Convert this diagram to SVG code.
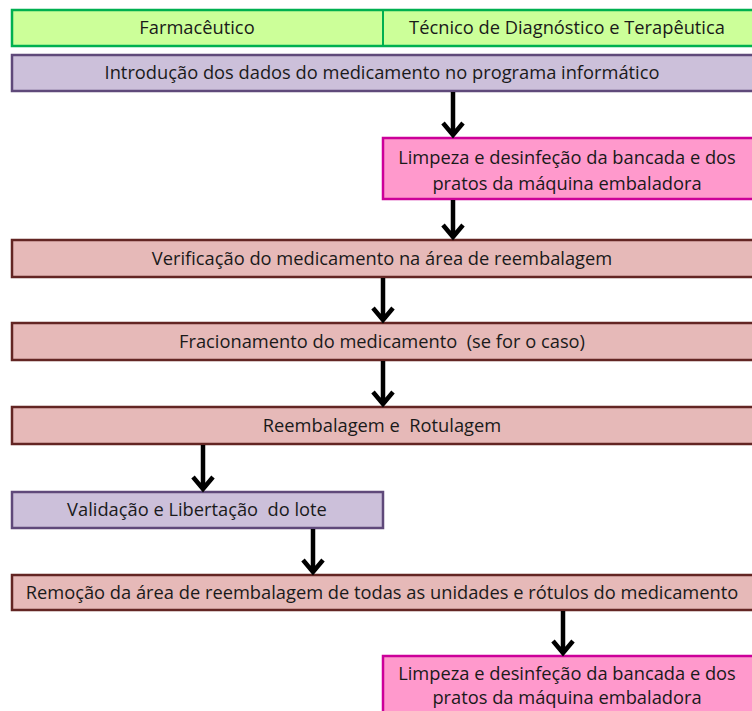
<svg xmlns="http://www.w3.org/2000/svg" width="752" height="711" viewBox="0 0 752 711">
<style>
text{font-family:"Open Sans","Liberation Sans",sans-serif;font-size:18.3px;fill:#1a1a1a;text-anchor:middle;white-space:pre}
.hdr{fill:#CCFF99;stroke:#00B050;stroke-width:2.5}
.pur{fill:#CCC0DA;stroke:#5F497A;stroke-width:2.5}
.pnk{fill:#FF99CC;stroke:#CC0099;stroke-width:2.5}
.red{fill:#E6B9B8;stroke:#632523;stroke-width:2.5}
.arr{fill:none;stroke:#000;stroke-width:4.5}
</style>
<rect width="752" height="711" fill="#fff"/>
<g id="header">
<rect class="hdr" x="12" y="10" width="744" height="36"/>
<line x1="383" y1="10" x2="383" y2="46" stroke="#00B050" stroke-width="2"/>
<text x="197" y="34">Farmacêutico</text>
<text x="567" y="34">Técnico de Diagnóstico e Terapêutica</text>
</g>
<g id="n1"><rect class="pur" x="12" y="55" width="744" height="36"/><text x="382" y="79">Introdução dos dados do medicamento no programa informático</text></g>
<g id="n2"><rect class="pnk" x="383" y="138" width="373" height="61"/><text x="567" y="164">Limpeza e desinfeção da bancada e dos</text><text x="567" y="190">pratos da máquina embaladora</text></g>
<g id="n3"><rect class="red" x="12" y="240" width="744" height="37"/><text x="382" y="265">Verificação do medicamento na área de reembalagem</text></g>
<g id="n4"><rect class="red" x="12" y="323" width="744" height="37"/><text x="382" y="348">Fracionamento do medicamento  (se for o caso)</text></g>
<g id="n5"><rect class="red" x="12" y="407" width="744" height="37"/><text x="382" y="432">Reembalagem e  Rotulagem</text></g>
<g id="n6"><rect class="pur" x="12" y="492" width="371" height="36"/><text x="197" y="516">Validação e Libertação  do lote</text></g>
<g id="n7"><rect class="red" x="12" y="575" width="744" height="35"/><text x="382" y="599">Remoção da área de reembalagem de todas as unidades e rótulos do medicamento</text></g>
<g id="n8"><rect class="pnk" x="383" y="656" width="373" height="70"/><text x="567" y="680">Limpeza e desinfeção da bancada e dos</text><text x="567" y="704">pratos da máquina embaladora</text></g>
<g id="connectors">
<path class="arr" d="M453 92V136M443 123L453 135L463 123"/>
<path class="arr" d="M453 200V238M443 225L453 237L463 225"/>
<path class="arr" d="M383 278V321M373 308L383 320L393 308"/>
<path class="arr" d="M383 361V405M373 392L383 404L393 392"/>
<path class="arr" d="M203 445V490M193 477L203 489L213 477"/>
<path class="arr" d="M313 529V573M303 560L313 572L323 560"/>
<path class="arr" d="M563 611V654M553 641L563 653L573 641"/>
</g>
</svg>
